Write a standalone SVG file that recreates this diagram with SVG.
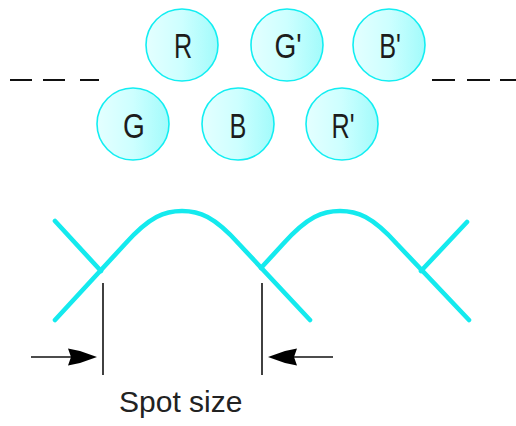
<svg xmlns="http://www.w3.org/2000/svg" width="516" height="426" viewBox="0 0 516 426">
<defs>
<linearGradient id="dotFill" x1="0" y1="0" x2="1" y2="0">
<stop offset="0" stop-color="#e4ffff"/>
<stop offset="0.5" stop-color="#cdffff"/>
<stop offset="1" stop-color="#a2fbfb"/>
</linearGradient>
<style>
.dot{fill:url(#dotFill);stroke:#12eef2;stroke-width:1.6}
.lbl{font-family:"Liberation Sans",Arial,sans-serif;font-size:35px;fill:#1c1c1c;text-anchor:middle}
.dash{stroke:#111;stroke-width:2;fill:none}
.curve{stroke:#14eaee;stroke-width:4.6;fill:none;stroke-linecap:round;stroke-linejoin:round}
.tick{stroke:#111;stroke-width:1.6;fill:none}
.shaft{stroke:#111;stroke-width:1.6;fill:none}
.head{fill:#000}
.cap{font-family:"Liberation Sans",Arial,sans-serif;font-size:30px;fill:#222}
</style>
</defs>
<rect width="516" height="426" fill="#fff"/>
<g id="dash-left">
<line class="dash" x1="10" y1="80" x2="32" y2="80"/>
<line class="dash" x1="43" y1="80" x2="65" y2="80"/>
<line class="dash" x1="80" y1="80" x2="99" y2="80"/>
</g>
<g id="dash-right">
<line class="dash" x1="432" y1="80" x2="455" y2="80"/>
<line class="dash" x1="467" y1="80" x2="490" y2="80"/>
<line class="dash" x1="500" y1="80" x2="516" y2="80"/>
</g>
<g id="dot-R"><circle class="dot" cx="182" cy="45" r="36"/><text class="lbl" transform="translate(183,58) scale(0.72,1)">R</text></g>
<g id="dot-G2"><circle class="dot" cx="287" cy="45" r="36"/><text class="lbl" transform="translate(288,58) scale(0.8,1)">G'</text></g>
<g id="dot-B2"><circle class="dot" cx="389" cy="45" r="36"/><text class="lbl" transform="translate(390,58) scale(0.72,1)">B'</text></g>
<g id="dot-G"><circle class="dot" cx="133" cy="124" r="36"/><text class="lbl" transform="translate(134,138) scale(0.8,1)">G</text></g>
<g id="dot-B"><circle class="dot" cx="238" cy="124" r="36"/><text class="lbl" transform="translate(238,138) scale(0.72,1)">B</text></g>
<g id="dot-R2"><circle class="dot" cx="342" cy="124" r="36"/><text class="lbl" transform="translate(343,138) scale(0.72,1)">R'</text></g>
<g id="profiles">
<path class="curve" d="M55,221 L101,271"/>
<path class="curve" d="M55,320 L125,244 C150,216 165,211 182,211 C199,211 214,216 239,244 L310,320"/>
<path class="curve" d="M261,268 L283,244 C308,216 323,211 340,211 C357,211 372,216 397,244 L469,320"/>
<path class="curve" d="M421,271 L467,222"/>
</g>
<g id="connectors">
<line class="tick" x1="103" y1="283" x2="103" y2="375"/>
<line class="tick" x1="262" y1="283" x2="262" y2="375"/>
<line class="shaft" x1="31" y1="357" x2="72" y2="357"/>
<polygon class="head" points="97,357 80,351 68,348.5 71,357 68,365.5 80,363"/>
<line class="shaft" x1="333" y1="357" x2="292" y2="357"/>
<polygon class="head" points="268,357 285,351 297,348.5 294,357 297,365.5 285,363"/>
</g>
<text class="cap" x="119" y="412">Spot size</text>
</svg>
